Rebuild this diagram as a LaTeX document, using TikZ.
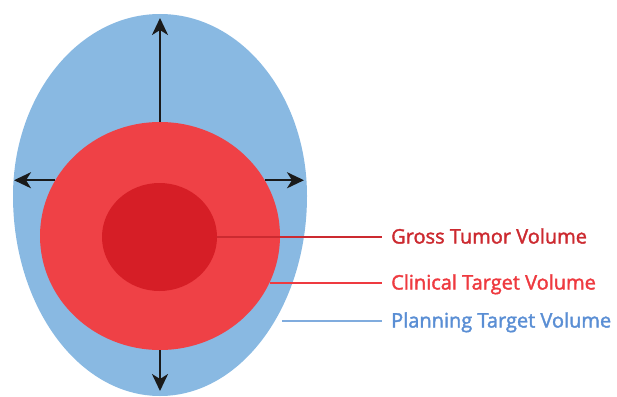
\documentclass[tikz,border=0pt]{standalone}
\usepackage{fontspec}
\setmainfont{Open Sans}
\newfontfamily\volfont{Open Sans}[FakeBold=1.8]
\usetikzlibrary{shapes.geometric, arrows.meta, positioning}
\definecolor{ptvblue}{RGB}{137, 185, 226}
\definecolor{ctvred}{RGB}{239, 65, 70}
\definecolor{gtvred}{RGB}{214, 30, 38}
\definecolor{gtvtext}{RGB}{204, 42, 48}
\definecolor{ctvtext}{RGB}{238, 58, 64}
\definecolor{ptvtext}{RGB}{90, 142, 212}
\definecolor{ptvline}{RGB}{128, 172, 222}
\definecolor{arrowgray}{RGB}{26, 26, 26}

\begin{document}
\begin{tikzpicture}[x=1pt, y=-1pt,
    volname/.style={anchor=west, inner xsep=9pt, inner ysep=0pt,
      text height=13pt, text depth=0pt, font=\volfont\fontsize{20}{22}\selectfont},
    leader/.style={line width=2pt},
    marginarrow/.style={line width=2.4pt, draw=arrowgray,
      -{Stealth[length=17pt, width=16pt, inset=5pt]}}]
  \useasboundingbox (0, 0) rectangle (617, 396);

  % Planning target volume
  \fill[ptvblue] (13, 196)
    arc[start angle=180, end angle=360, x radius=147, y radius=182]
    arc[start angle=0, end angle=180, x radius=147, y radius=200] -- cycle;

  % Clinical target volume
  \node[ellipse, fill=ctvred, inner sep=0pt, minimum width=240pt,
    minimum height=228pt] (ctv) at (160, 236) {};

  % Gross tumor volume
  \node[ellipse, fill=gtvred, inner sep=0pt, minimum width=115pt,
    minimum height=108pt] (gtv) at (159.5, 237) {};

  % Margin growth
  \coordinate (uptip) at (158, 18);
  \coordinate (lefttip) at (14, 180);
  \coordinate (righttip) at (304, 182);
  \coordinate (downtip) at (157, 391);
  \draw[marginarrow] (ctv.north) -- (ctv.north |- uptip);
  \draw[marginarrow] (ctv.152) -- (ctv.152 -| lefttip);
  \draw[marginarrow] (ctv.28) -- (ctv.28 -| righttip);
  \draw[marginarrow] (ctv.south) -- (ctv.south |- downtip);

  % Labels
  \node[volname, text=gtvtext] (gtvlabel) at (382, 237) {Gross Tumor Volume};
  \node[volname, text=ctvtext] (ctvlabel) at (382, 283) {Clinical Target Volume};
  \node[volname, text=ptvtext] (ptvlabel) at (382, 321) {Planning Target Volume};

  \draw[leader, gtvtext] (gtv.east) -- (gtv.east -| gtvlabel.west);
  \draw[leader, ctvtext] (ctv.-23) -- (ctv.-23 -| ctvlabel.west);
  \coordinate (ptvedge) at (282, 321);
  \draw[leader, ptvline] (ptvedge) -- (ptvlabel.west);
\end{tikzpicture}
\end{document}
